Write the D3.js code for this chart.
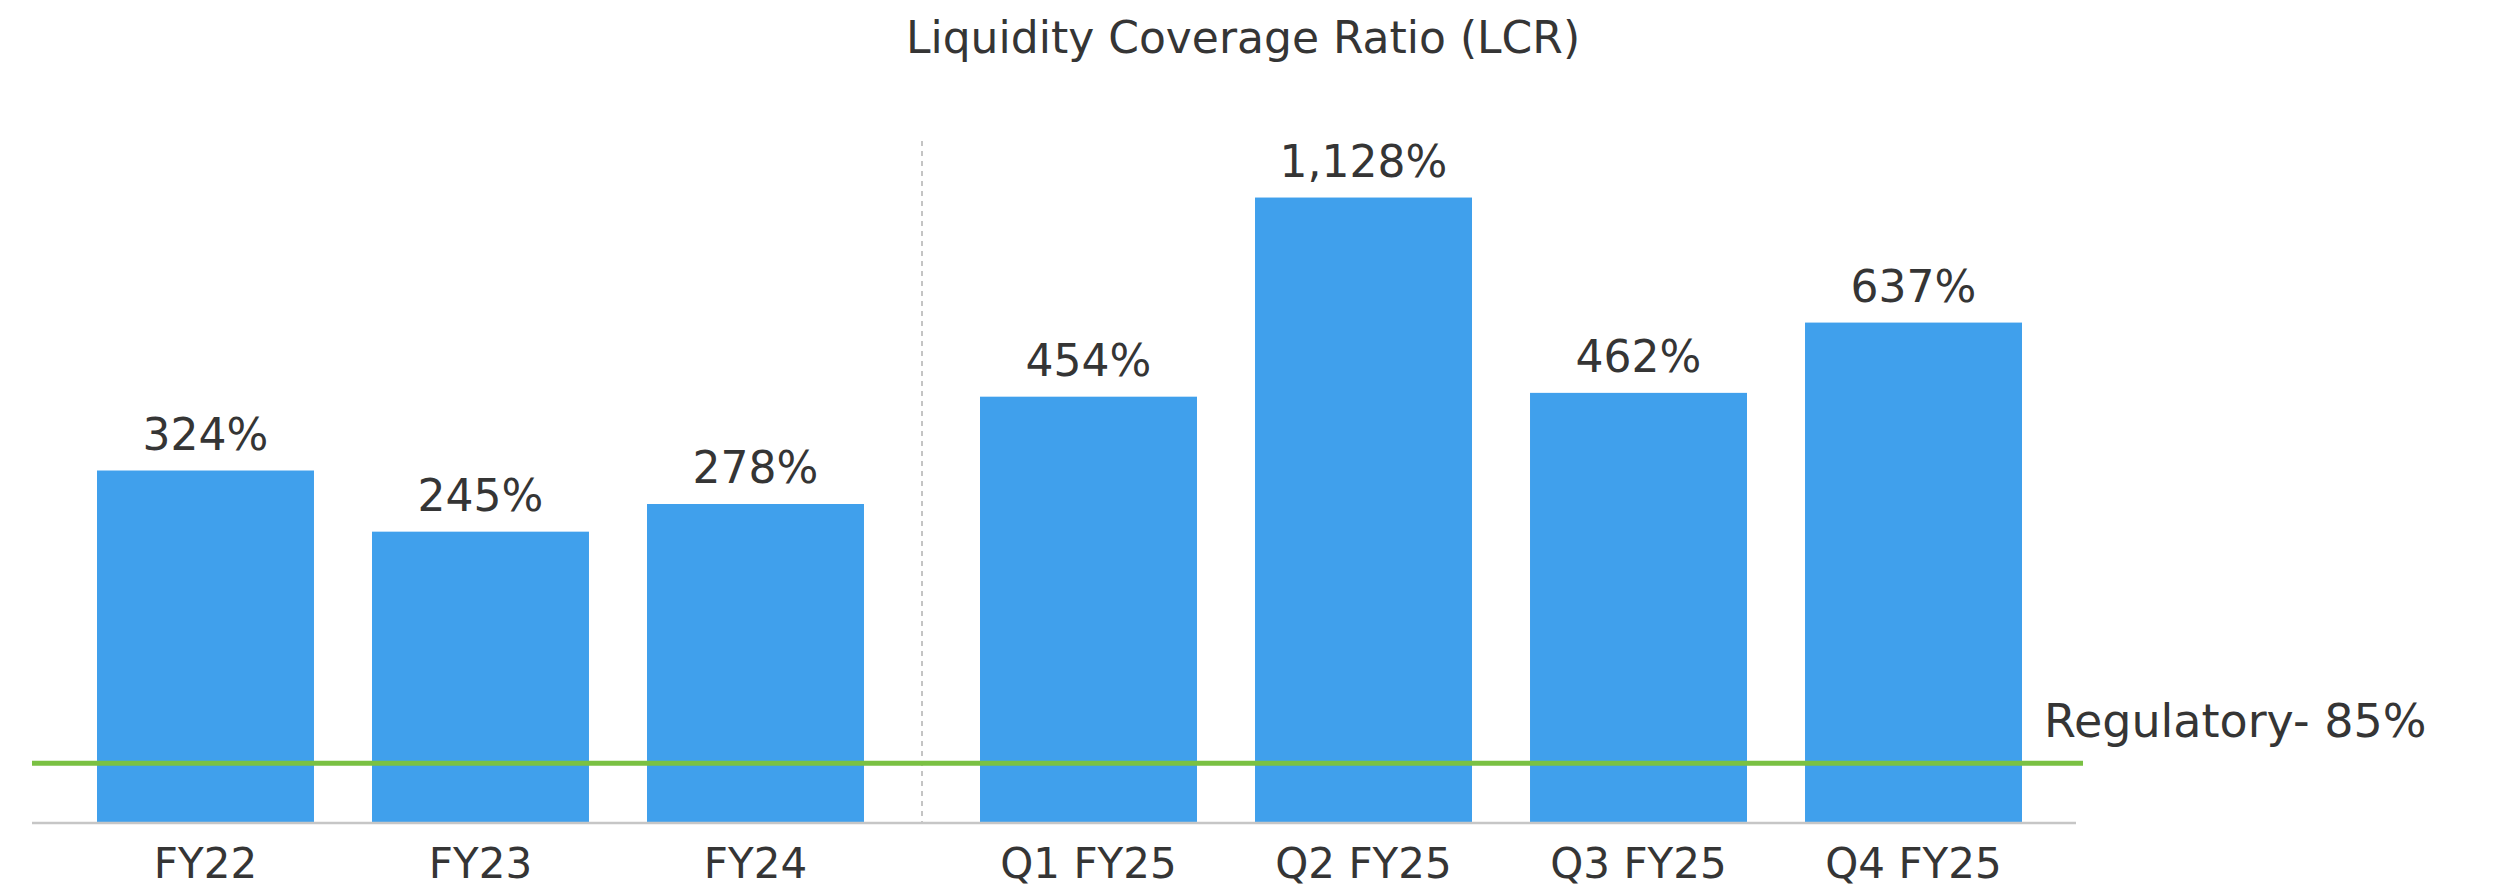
<!DOCTYPE html>
<html>
<head>
<meta charset="utf-8">
<script src="https://cdn.jsdelivr.net/npm/d3@7"></script>
<style>
  html, body { margin: 0; padding: 0; background: #ffffff; }
  svg { display: block; }
  text { font-family: "DejaVu Sans", sans-serif; fill: #353535; }
</style>
</head>
<body>
<script>
// ---- data ----
const chartTitle = "Liquidity Coverage Ratio (LCR)";
const categories = ["FY22", "FY23", "FY24", "Q1 FY25", "Q2 FY25", "Q3 FY25", "Q4 FY25"];
const periodGroup = ["annual", "annual", "annual", "quarterly", "quarterly", "quarterly", "quarterly"];
const lcrValues = [324, 245, 278, 454, 1128, 462, 637];
const regulatoryMin = 85;
const regulatoryText = "Regulatory- ";

// ---- layout ----
const W = 2505, H = 893;
const baseY = 822;
const axisLeft = 32, axisRight = 2076, refLineRight = 2083;
const groupGap = 58;

const svg = d3.select("body").append("svg").attr("width", W).attr("height", H);

const data = categories.map((c, i) => ({ cat: c, group: periodGroup[i], value: lcrValues[i] }));
const groups = Array.from(new Set(periodGroup));

const x = d3.scaleBand().domain(categories).range([97, 1964]).paddingInner(0.211).paddingOuter(0);
const xPos = d => x(d.cat) + groups.indexOf(d.group) * groupGap;

// value axis (hidden) – non-linear, as the reference bars are drawn
const y = d3.scaleLog().domain([65, 1200]).range([baseY, 184]);

// title
svg.append("text")
  .attr("x", 1243).attr("y", 53)
  .attr("text-anchor", "middle")
  .style("font-size", "44px")
  .text(chartTitle);

// dashed separator between annual and quarterly groups
const lastAnnual = data.filter(d => d.group === "annual").slice(-1)[0];
const firstQuarter = data.filter(d => d.group === "quarterly")[0];
const sepX = ((xPos(lastAnnual) + x.bandwidth()) + xPos(firstQuarter)) / 2;
svg.append("line")
  .attr("x1", sepX).attr("x2", sepX)
  .attr("y1", 141).attr("y2", baseY)
  .attr("stroke", "#c4c4c4").attr("stroke-width", 2)
  .attr("stroke-dasharray", "5,5");

// bars
svg.append("g").selectAll("rect").data(data).join("rect")
  .attr("x", d => xPos(d))
  .attr("width", x.bandwidth())
  .attr("y", d => y(d.value))
  .attr("height", d => baseY - y(d.value))
  .attr("fill", "#40A0EC");

// value labels
const fmt = d3.format(",");
svg.append("g").selectAll("text").data(data).join("text")
  .attr("x", d => xPos(d) + x.bandwidth() / 2)
  .attr("y", d => y(d.value) - 21)
  .attr("text-anchor", "middle")
  .style("font-size", "44px")
  .text(d => fmt(d.value) + "%");

// category axis
svg.append("line")
  .attr("x1", axisLeft).attr("x2", axisRight)
  .attr("y1", baseY + 1).attr("y2", baseY + 1)
  .attr("stroke", "#c6c6c6").attr("stroke-width", 2.5);

svg.append("g").selectAll("text").data(data).join("text")
  .attr("x", d => xPos(d) + x.bandwidth() / 2)
  .attr("y", 878)
  .attr("text-anchor", "middle")
  .style("font-size", "42px")
  .text(d => d.cat);

// regulatory minimum line
const regY = y(regulatoryMin);
svg.append("line")
  .attr("x1", axisLeft).attr("x2", refLineRight)
  .attr("y1", regY).attr("y2", regY)
  .attr("stroke", "#7AC143").attr("stroke-width", 5);

svg.append("text")
  .attr("x", 2044).attr("y", regY - 26)
  .style("font-size", "46px")
  .text(regulatoryText + regulatoryMin + "%");
</script>
</body>
</html>
